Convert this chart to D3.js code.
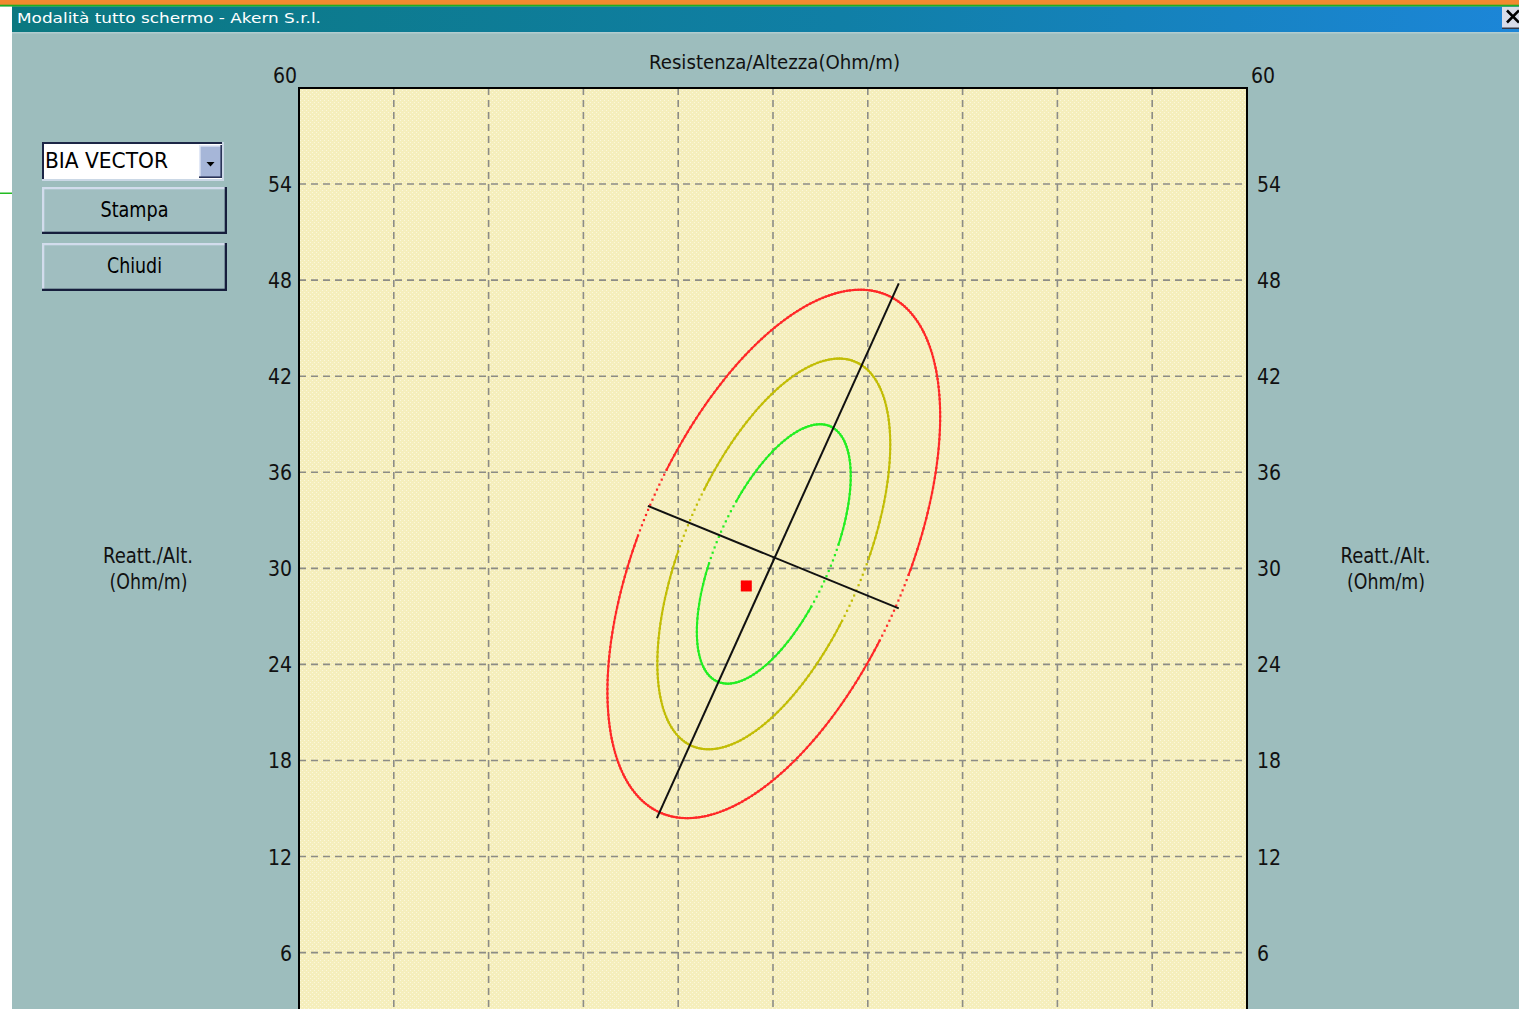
<!DOCTYPE html>
<html>
<head>
<meta charset="utf-8">
<script src="https://cdn.jsdelivr.net/npm/d3@7"></script>
<style>
  html, body { margin: 0; padding: 0; overflow: hidden; background: #9dbdbd; }
  svg { display: block; }
  text { font-family: 'Liberation Sans Narrow', 'DejaVu Sans Condensed', 'Liberation Sans', sans-serif; }
</style>
</head>
<body>
<svg id="chart" width="1519" height="1009"></svg>
<script>
// Axes: resistance/height (R/H) and reactance/height (Xc/H), Ohm/m
const rDomain = [0, 600];
const xcDomain = [0, 60];
const rGridTicks = [60, 120, 180, 240, 300, 360, 420, 480, 540];
const xcTicks = [6, 12, 18, 24, 30, 36, 42, 48, 54, 60];
const xcTickLabels = ["6", "12", "18", "24", "30", "36", "42", "48", "54", "60"];

// Reference population mean vector [R/H, Xc/H]
const refMean = [300.5, 30.9];

// Tolerance ellipses: level, half-range on R/H, half-range on Xc/H, R–Xc correlation
const ellipseLevels = ["50%", "75%", "95%"];
const ellipseHalfR = [48.7, 73.7, 105.3];
const ellipseHalfXc = [8.1, 12.2, 16.5];
const ellipseCorr = [0.6, 0.56, 0.52];

// Principal axes through the reference mean, endpoints as [R/H, Xc/H]
const majorAxis = [[226.5, 14.4], [379.6, 47.8]];
const minorAxis = [[220.8, 33.9], [379.6, 27.5]];

// Measured vector of the subject
const subjectPoint = [283.1, 28.9];

const ellipseColors = ["#22ee22", "#c2bd06", "#ff2828"];
// share of the fastest plotting step above which samples stay unjoined
const joinLimit = [0.975, 0.99, 0.994];

const svg = d3.select("#chart");
const W = 1519, H = 1009;
const plot = { left: 299, right: 1247, top: 88 };

const x = d3.scaleLinear().domain(rDomain).range([plot.left, plot.right]);
const y = d3.scaleLinear().domain(xcDomain).range([1048.7, plot.top]);

const defs = svg.append("defs");
const grad = defs.append("linearGradient").attr("id", "titlebar").attr("x1", 0).attr("x2", 1).attr("y1", 0).attr("y2", 0);
grad.append("stop").attr("offset", 0).attr("stop-color", "#0b7880");
grad.append("stop").attr("offset", 0.55).attr("stop-color", "#107fa6");
grad.append("stop").attr("offset", 1).attr("stop-color", "#1c86d8");

const pat = defs.append("pattern").attr("id", "paper").attr("width", 4).attr("height", 4)
  .attr("patternUnits", "userSpaceOnUse");
pat.append("rect").attr("width", 4).attr("height", 4).attr("fill", "#f5eebc");
pat.append("rect").attr("x", 0).attr("y", 0).attr("width", 1).attr("height", 1).attr("fill", "#fbf7dc");
pat.append("rect").attr("x", 2).attr("y", 2).attr("width", 1).attr("height", 1).attr("fill", "#fbf7dc");

// ---- window chrome ----
svg.append("rect").attr("width", W).attr("height", H).attr("fill", "#9dbdbd");
svg.append("rect").attr("x", 0).attr("y", 0).attr("width", W).attr("height", 5).attr("fill", "#f28a2e");
svg.append("rect").attr("x", 0).attr("y", 4.7).attr("width", W).attr("height", 2).attr("fill", "#1fae23");
svg.append("rect").attr("x", 12).attr("y", 6.7).attr("width", W - 12).attr("height", 25.5).attr("fill", "url(#titlebar)");
svg.append("rect").attr("x", 12).attr("y", 32).attr("width", W - 12).attr("height", 1.5).attr("fill", "#b2cdd0");
svg.append("rect").attr("x", 0).attr("y", 6.7).attr("width", 12).attr("height", H).attr("fill", "#ffffff");
svg.append("rect").attr("x", 0).attr("y", 192.5).attr("width", 12).attr("height", 1.5).attr("fill", "#22bb22");

svg.append("text").attr("x", 17).attr("y", 23).attr("fill", "#ffffff")
  .style("font-family", "'DejaVu Sans', sans-serif").attr("font-size", 14.5)
  .attr("textLength", 304).attr("lengthAdjust", "spacingAndGlyphs")
  .text("Modalità tutto schermo - Akern S.r.l.");

// close button (partly outside the window)
svg.append("rect").attr("x", 1502).attr("y", 7).attr("width", 20).attr("height", 21).attr("fill", "#d8dce8");
svg.append("rect").attr("x", 1502).attr("y", 27.5).attr("width", 20).attr("height", 1.5).attr("fill", "#303848");
svg.append("path").attr("d", "M1507,10.5 L1519,22.5 M1519,10.5 L1507,22.5")
  .attr("stroke", "#000").attr("stroke-width", 2.6);

// ---- controls on the left ----
function bevel(x0, y0, w, h, light, dark, t) {
  const g = svg.append("g");
  g.append("rect").attr("x", x0).attr("y", y0).attr("width", w).attr("height", t).attr("fill", light);
  g.append("rect").attr("x", x0).attr("y", y0).attr("width", t).attr("height", h).attr("fill", light);
  g.append("rect").attr("x", x0).attr("y", y0 + h - t).attr("width", w).attr("height", t).attr("fill", dark);
  g.append("rect").attr("x", x0 + w - t).attr("y", y0).attr("width", t).attr("height", h).attr("fill", dark);
  return g;
}

// combo box
svg.append("rect").attr("x", 42).attr("y", 142).attr("width", 182).attr("height", 39).attr("fill", "#ffffff");
bevel(42, 142, 182, 39, "#1c2646", "#cbd8e6", 2);
svg.append("rect").attr("x", 199).attr("y", 145).attr("width", 23).attr("height", 33).attr("fill", "#a6b6d8");
bevel(199, 145, 23, 33, "#e2e8f6", "#2a3458", 1.6);
svg.append("path").attr("d", "M206.5,162 L214.5,162 L210.5,166.5 Z").attr("fill", "#000");
svg.append("text").attr("x", 45).attr("y", 168.3).attr("font-size", 21).attr("fill", "#000")
  .attr("textLength", 123).attr("lengthAdjust", "spacingAndGlyphs").text("BIA VECTOR");

// buttons
const buttons = [{ label: "Stampa", y0: 187, h: 47, base: 217.3, w: 68 }, { label: "Chiudi", y0: 243, h: 48, base: 273.3, w: 55 }];
buttons.forEach(b => {
  svg.append("rect").attr("x", 42).attr("y", b.y0).attr("width", 185).attr("height", b.h).attr("fill", "#a0bec0");
  bevel(42, b.y0, 185, b.h, "#d2dcec", "#161e3c", 2.3);
  svg.append("text").attr("x", 134.5).attr("y", b.base).attr("text-anchor", "middle")
    .attr("font-size", 20.5).attr("fill", "#000")
    .attr("textLength", b.w).attr("lengthAdjust", "spacingAndGlyphs").text(b.label);
});

// ---- plot area ----
svg.append("rect").attr("x", plot.left).attr("y", plot.top)
  .attr("width", plot.right - plot.left).attr("height", H - plot.top).attr("fill", "url(#paper)");

const grid = svg.append("g").attr("stroke", "#8c8c86").attr("stroke-width", 1.6).attr("stroke-dasharray", "7,5");
grid.selectAll("line.v").data(rGridTicks).join("line").attr("class", "v")
  .attr("x1", d => x(d)).attr("x2", d => x(d)).attr("y1", plot.top).attr("y2", H);
grid.selectAll("line.h").data(xcTicks.filter(d => d < xcDomain[1])).join("line").attr("class", "h")
  .attr("x1", plot.left).attr("x2", plot.right).attr("y1", d => y(d)).attr("y2", d => y(d));

// frame
svg.append("path")
  .attr("d", `M${plot.left},${H} L${plot.left},${plot.top} L${plot.right},${plot.top} L${plot.right},${H}`)
  .attr("fill", "none").attr("stroke", "#000").attr("stroke-width", 2);

// tick labels on both sides
const tickFont = 21;
const topTick = xcDomain[1];
svg.append("g").selectAll("text").data(xcTicks).join("text")
  .attr("x", d => d === topTick ? plot.left - 2 : plot.left - 7)
  .attr("y", d => d === topTick ? y(d) - 5 : y(d) + 8)
  .attr("text-anchor", "end").attr("font-size", tickFont).attr("fill", "#111")
  .text((d, i) => xcTickLabels[i]);
svg.append("g").selectAll("text").data(xcTicks).join("text")
  .attr("x", d => d === topTick ? plot.right + 4 : plot.right + 10)
  .attr("y", d => d === topTick ? y(d) - 5 : y(d) + 8)
  .attr("text-anchor", "start").attr("font-size", tickFont).attr("fill", "#111")
  .text((d, i) => xcTickLabels[i]);

// axis titles
svg.append("text").attr("x", 649).attr("y", 68.5).attr("font-size", 20).attr("fill", "#111")
  .attr("textLength", 251).attr("lengthAdjust", "spacingAndGlyphs").text("Resistenza/Altezza(Ohm/m)");
[148, 1385.5].forEach(cx => {
  svg.append("text").attr("x", cx).attr("y", 563.3).attr("text-anchor", "middle").attr("font-size", 21)
    .attr("fill", "#111").attr("textLength", 90).attr("lengthAdjust", "spacingAndGlyphs").text("Reatt./Alt.");
  svg.append("text").attr("x", cx + 0.5).attr("y", 588.5).attr("text-anchor", "middle").attr("font-size", 21)
    .attr("fill", "#111").attr("textLength", 78).attr("lengthAdjust", "spacingAndGlyphs").text("(Ohm/m)");
});

// ---- tolerance ellipses ----
function ellipseAt(i, t) {
  const r = ellipseCorr[i], q = Math.sqrt(1 - r * r);
  return [refMean[0] + ellipseHalfR[i] * Math.cos(t),
          refMean[1] + ellipseHalfXc[i] * (r * Math.cos(t) + q * Math.sin(t))];
}
const ellipseLayer = svg.append("g");
ellipseLevels.forEach((lvl, i) => {
  // pixel perimeter decides how many plotted samples the curve gets
  let per = 0, prev = null;
  for (let k = 0; k <= 720; k++) {
    const p = ellipseAt(i, 2 * Math.PI * k / 720);
    const px = [x(p[0]), y(p[1])];
    if (prev) per += Math.hypot(px[0] - prev[0], px[1] - prev[1]);
    prev = px;
  }
  const n = Math.round(per / 4.2);
  const pts = d3.range(n).map(k => {
    const p = ellipseAt(i, 2 * Math.PI * k / n);
    return [x(p[0]), y(p[1])];
  });
  const steps = pts.map((p, k) => {
    const nx = pts[(k + 1) % n];
    return Math.hypot(nx[0] - p[0], nx[1] - p[1]);
  });
  const maxStep = d3.max(steps);
  const g = ellipseLayer.append("g").attr("class", "ellipse-" + lvl.replace("%", ""));
  let d = "";
  pts.forEach((p, k) => {
    const nx = pts[(k + 1) % n];
    if (steps[k] < joinLimit[i] * maxStep) d += `M${p[0]},${p[1]}L${nx[0]},${nx[1]}`;
  });
  g.append("path").attr("d", d).attr("fill", "none").attr("stroke", ellipseColors[i])
    .attr("stroke-width", 2).attr("stroke-linecap", "square");
  g.selectAll("rect").data(pts).join("rect")
    .attr("x", p => p[0] - 1.1).attr("y", p => p[1] - 1.1).attr("width", 2.2).attr("height", 2.2)
    .attr("fill", ellipseColors[i]);
});

// principal axes
[majorAxis, minorAxis].forEach(ax => {
  svg.append("line").attr("x1", x(ax[0][0])).attr("y1", y(ax[0][1]))
    .attr("x2", x(ax[1][0])).attr("y2", y(ax[1][1]))
    .attr("stroke", "#111").attr("stroke-width", 2);
});

// subject vector point
svg.append("rect").attr("x", x(subjectPoint[0]) - 5.5).attr("y", y(subjectPoint[1]) - 5.5)
  .attr("width", 11).attr("height", 11).attr("fill", "#ff0000");
</script>
</body>
</html>
